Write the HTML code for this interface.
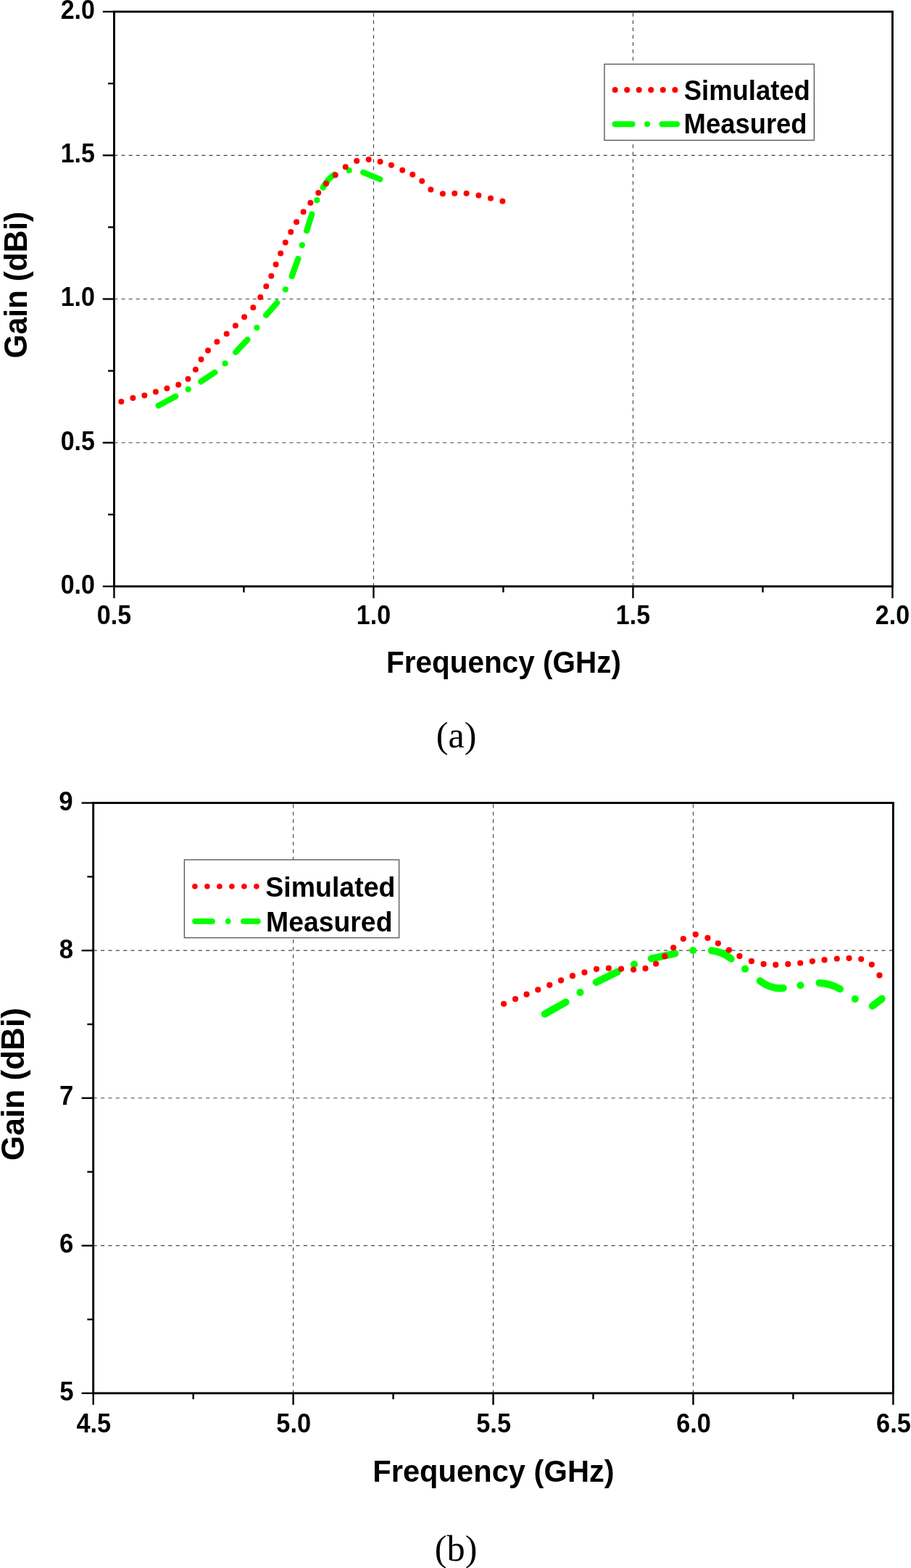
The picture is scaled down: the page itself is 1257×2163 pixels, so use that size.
<!DOCTYPE html>
<html lang="en"><head><meta charset="utf-8"><title>Gain vs Frequency</title>
<style>
html,body{margin:0;padding:0;background:#fff;}
body{width:1257px;height:2163px;overflow:hidden;}
svg{display:block;}
.t{font-family:"Liberation Sans", Arial, Helvetica, sans-serif;font-weight:700;fill:#000;}
.c{font-family:"Liberation Serif", "Times New Roman", Times, serif;font-weight:400;fill:#000;}
.a{stroke:#000;stroke-width:2.9;}
.k{stroke:#000;stroke-width:2.4;}
.g{stroke:#444;stroke-width:1.15;}.gv{stroke-dashoffset:-1.8;}
.gr{stroke:#00ff00;stroke-linecap:round;fill:none;}
.rd circle{fill:#ff0000;}
.lb{fill:#fff;stroke:#5a5a5a;stroke-width:1.4;}
</style></head><body>
<svg width="1257" height="2163" viewBox="0 0 1257 2163">
<rect width="1257" height="2163" fill="#fff"/>
<g id="chart-a">
<g class="g" stroke-dasharray="5 5.08">
<line class="gh" x1="157.45" y1="214.3" x2="1231.45" y2="214.3"/>
<line class="gh" x1="157.45" y1="412.5" x2="1231.45" y2="412.5"/>
<line class="gh" x1="157.45" y1="610.7" x2="1231.45" y2="610.7"/>
<line class="gv" x1="515.45" y1="16.1" x2="515.45" y2="808.9"/>
<line class="gv" x1="873.45" y1="16.1" x2="873.45" y2="808.9"/>
</g>
<line class="k" x1="141.75" y1="16.1" x2="157.45" y2="16.1"/>
<line class="k" x1="141.75" y1="214.3" x2="157.45" y2="214.3"/>
<line class="k" x1="141.75" y1="412.5" x2="157.45" y2="412.5"/>
<line class="k" x1="141.75" y1="610.7" x2="157.45" y2="610.7"/>
<line class="k" x1="141.75" y1="808.9" x2="157.45" y2="808.9"/>
<line class="k" x1="149.15" y1="115.2" x2="157.45" y2="115.2"/>
<line class="k" x1="149.15" y1="313.4" x2="157.45" y2="313.4"/>
<line class="k" x1="149.15" y1="511.6" x2="157.45" y2="511.6"/>
<line class="k" x1="149.15" y1="709.8" x2="157.45" y2="709.8"/>
<line class="k" x1="157.45" y1="808.9" x2="157.45" y2="825.2"/>
<line class="k" x1="515.45" y1="808.9" x2="515.45" y2="825.2"/>
<line class="k" x1="873.45" y1="808.9" x2="873.45" y2="825.2"/>
<line class="k" x1="1231.45" y1="808.9" x2="1231.45" y2="825.2"/>
<line class="k" x1="336.45" y1="808.9" x2="336.45" y2="817.2"/>
<line class="k" x1="694.45" y1="808.9" x2="694.45" y2="817.2"/>
<line class="k" x1="1052.45" y1="808.9" x2="1052.45" y2="817.2"/>
<rect class="a" x="157.45" y="16.1" width="1074" height="792.8" fill="none"/>
<g class="gr" stroke-width="8.2">
<path d="M218.7 559.5L242.2 546.8"/>
<path d="M259.7 537.1h0.01"/>
<path d="M277.3 526.4L296.4 513.7"/>
<path d="M310.6 501.4h0.01"/>
<path d="M325.2 485.7L341.4 468.6"/>
<path d="M354.4 452h0.01"/>
<path d="M367.2 434.7L382.2 417.7"/>
<path d="M393.9 399.3h0.01"/>
<path d="M402.7 381L411.3 357.1"/>
<path d="M416.8 338.2h0.01"/>
<path d="M423.2 318.3L430.3 295.5"/>
<path d="M437.3 276.2h0.01"/>
<path d="M445.7 258.7Q453.25 245.65 461.4 240.8"/>
<path d="M481.7 235h0.01"/>
<path d="M501.2 237.8L524.4 247.3"/>
</g>
<g class="rd">
<circle cx="167.3" cy="554.1" r="4"/>
<circle cx="183.4" cy="549" r="4"/>
<circle cx="199.4" cy="545.5" r="4"/>
<circle cx="214.9" cy="540.6" r="4"/>
<circle cx="230.4" cy="535.8" r="4"/>
<circle cx="246.2" cy="530.7" r="4"/>
<circle cx="259.5" cy="522.8" r="4"/>
<circle cx="269.9" cy="509.8" r="4"/>
<circle cx="277.5" cy="495.8" r="4"/>
<circle cx="287" cy="483.4" r="4"/>
<circle cx="299.4" cy="471.4" r="4"/>
<circle cx="312.7" cy="460.4" r="4"/>
<circle cx="324.9" cy="449.2" r="4"/>
<circle cx="337.1" cy="437.3" r="4"/>
<circle cx="349.3" cy="424.3" r="4"/>
<circle cx="359.3" cy="410" r="4"/>
<circle cx="367.3" cy="395.1" r="4"/>
<circle cx="374.3" cy="380.8" r="4"/>
<circle cx="380.6" cy="364.7" r="4"/>
<circle cx="387.2" cy="349.6" r="4"/>
<circle cx="393.8" cy="334.6" r="4"/>
<circle cx="401.3" cy="319.9" r="4"/>
<circle cx="409.1" cy="306.2" r="4"/>
<circle cx="418.6" cy="292.3" r="4"/>
<circle cx="428.4" cy="279.8" r="4"/>
<circle cx="439.3" cy="266" r="4"/>
<circle cx="450" cy="253.3" r="4"/>
<circle cx="462.8" cy="241.6" r="4"/>
<circle cx="476.7" cy="230.2" r="4"/>
<circle cx="492.2" cy="221.9" r="4"/>
<circle cx="508.7" cy="220.1" r="4"/>
<circle cx="524.6" cy="222.9" r="4"/>
<circle cx="539.9" cy="227.8" r="4"/>
<circle cx="555.2" cy="234.8" r="4"/>
<circle cx="569.3" cy="240.7" r="4"/>
<circle cx="582.2" cy="249.8" r="4"/>
<circle cx="594.4" cy="261.4" r="4"/>
<circle cx="610.9" cy="267.3" r="4"/>
<circle cx="627.3" cy="266.8" r="4"/>
<circle cx="643.6" cy="266.8" r="4"/>
<circle cx="660.4" cy="269.6" r="4"/>
<circle cx="677" cy="273.6" r="4"/>
<circle cx="693.4" cy="277.4" r="4"/>
</g>
<rect class="lb" x="834" y="88.5" width="289.4" height="105"/>
<g class="rd">
<circle cx="848.7" cy="124.1" r="4"/>
<circle cx="865.2" cy="124.1" r="4"/>
<circle cx="881.7" cy="124.1" r="4"/>
<circle cx="898.2" cy="124.1" r="4"/>
<circle cx="914.8" cy="124.1" r="4"/>
<circle cx="931.4" cy="124.1" r="4"/>
</g>
<g class="gr" stroke-width="8">
<path d="M848.6 171.2H872.5"/>
<path d="M893 171.2h0.01"/>
<path d="M913.5 171.2H934"/>
</g>
<text class="t" x="943.7" y="137.8" font-size="38.5" text-anchor="start" textLength="174.2" lengthAdjust="spacingAndGlyphs">Simulated</text>
<text class="t" x="943.6" y="184.15" font-size="38.5" text-anchor="start" textLength="170" lengthAdjust="spacingAndGlyphs">Measured</text>
<text class="t" x="131" y="25.95" font-size="36.4" text-anchor="end" textLength="47.3" lengthAdjust="spacingAndGlyphs">2.0</text>
<text class="t" x="131" y="224.15" font-size="36.4" text-anchor="end" textLength="47.3" lengthAdjust="spacingAndGlyphs">1.5</text>
<text class="t" x="131" y="422.35" font-size="36.4" text-anchor="end" textLength="47.3" lengthAdjust="spacingAndGlyphs">1.0</text>
<text class="t" x="131" y="620.55" font-size="36.4" text-anchor="end" textLength="47.3" lengthAdjust="spacingAndGlyphs">0.5</text>
<text class="t" x="131" y="818.75" font-size="36.4" text-anchor="end" textLength="47.3" lengthAdjust="spacingAndGlyphs">0.0</text>
<text class="t" x="157.45" y="860.7" font-size="36.4" text-anchor="middle" textLength="47.2" lengthAdjust="spacingAndGlyphs">0.5</text>
<text class="t" x="515.45" y="860.7" font-size="36.4" text-anchor="middle" textLength="47.2" lengthAdjust="spacingAndGlyphs">1.0</text>
<text class="t" x="873.45" y="860.7" font-size="36.4" text-anchor="middle" textLength="47.2" lengthAdjust="spacingAndGlyphs">1.5</text>
<text class="t" x="1231.45" y="860.7" font-size="36.4" text-anchor="middle" textLength="47.2" lengthAdjust="spacingAndGlyphs">2.0</text>
<text class="t" x="694.9" y="927.9" font-size="42.1" text-anchor="middle" textLength="324" lengthAdjust="spacingAndGlyphs">Frequency (GHz)</text>
<text class="t" x="0" y="0" font-size="43.6" text-anchor="middle" textLength="202.3" lengthAdjust="spacingAndGlyphs" transform="translate(36.8 393) rotate(-90)">Gain (dBi)</text>
<text class="c" x="629.6" y="1030.6" font-size="50.3" text-anchor="middle">(a)</text>
</g>
<g id="chart-b">
<g class="g" stroke-dasharray="5.1 5.26">
<line class="gh" x1="128.7" y1="1311.17" x2="1232.4" y2="1311.17"/>
<line class="gh" x1="128.7" y1="1514.75" x2="1232.4" y2="1514.75"/>
<line class="gh" x1="128.7" y1="1718.33" x2="1232.4" y2="1718.33"/>
<line class="gv" x1="404.62" y1="1107.6" x2="404.62" y2="1921.9"/>
<line class="gv" x1="680.55" y1="1107.6" x2="680.55" y2="1921.9"/>
<line class="gv" x1="956.48" y1="1107.6" x2="956.48" y2="1921.9"/>
</g>
<line class="k" x1="112.6" y1="1107.6" x2="128.7" y2="1107.6"/>
<line class="k" x1="112.6" y1="1311.17" x2="128.7" y2="1311.17"/>
<line class="k" x1="112.6" y1="1514.75" x2="128.7" y2="1514.75"/>
<line class="k" x1="112.6" y1="1718.33" x2="128.7" y2="1718.33"/>
<line class="k" x1="112.6" y1="1921.9" x2="128.7" y2="1921.9"/>
<line class="k" x1="120.4" y1="1209.39" x2="128.7" y2="1209.39"/>
<line class="k" x1="120.4" y1="1412.96" x2="128.7" y2="1412.96"/>
<line class="k" x1="120.4" y1="1616.54" x2="128.7" y2="1616.54"/>
<line class="k" x1="120.4" y1="1820.11" x2="128.7" y2="1820.11"/>
<line class="k" x1="128.7" y1="1921.9" x2="128.7" y2="1937.9"/>
<line class="k" x1="404.62" y1="1921.9" x2="404.62" y2="1937.9"/>
<line class="k" x1="680.55" y1="1921.9" x2="680.55" y2="1937.9"/>
<line class="k" x1="956.48" y1="1921.9" x2="956.48" y2="1937.9"/>
<line class="k" x1="1232.4" y1="1921.9" x2="1232.4" y2="1937.9"/>
<line class="k" x1="266.66" y1="1921.9" x2="266.66" y2="1930.2"/>
<line class="k" x1="542.59" y1="1921.9" x2="542.59" y2="1930.2"/>
<line class="k" x1="818.51" y1="1921.9" x2="818.51" y2="1930.2"/>
<line class="k" x1="1094.44" y1="1921.9" x2="1094.44" y2="1930.2"/>
<rect class="a" x="128.7" y="1107.6" width="1103.7" height="814.3" fill="none"/>
<g class="gr" stroke-width="10">
<path d="M751.7 1398.8L780.6 1382.5"/>
<path d="M800.5 1369.1h0.01"/>
<path d="M822.7 1354.9L852.1 1340.5"/>
<path d="M875 1330.2h0.01"/>
<path d="M898.7 1322.4L931.5 1315.3"/>
<path d="M956.2 1311.3h0.01"/>
<path d="M981.8 1311.3Q996.95 1312.9 1008.7 1322.5"/>
<path d="M1028.1 1336.6h0.01"/>
<path d="M1048.6 1353.1Q1063.5 1364.7 1080.8 1363.1"/>
<path d="M1104.4 1359.3h0.01"/>
<path d="M1130.5 1355.9Q1145.8 1356.5 1159.1 1364.3"/>
<path d="M1179.9 1378.1h0.01"/>
<path d="M1203.7 1387.7L1216.8 1377.7"/>
</g>
<g class="rd">
<circle cx="695.1" cy="1384.8" r="4.1"/>
<circle cx="711.1" cy="1378.1" r="4.1"/>
<circle cx="726.6" cy="1371.7" r="4.1"/>
<circle cx="742.3" cy="1365.3" r="4.1"/>
<circle cx="758.3" cy="1358.8" r="4.1"/>
<circle cx="774.1" cy="1352.4" r="4.1"/>
<circle cx="790" cy="1346.2" r="4.1"/>
<circle cx="806.5" cy="1341.4" r="4.1"/>
<circle cx="823" cy="1336.8" r="4.1"/>
<circle cx="839.9" cy="1335.7" r="4.1"/>
<circle cx="857.1" cy="1336.6" r="4.1"/>
<circle cx="874.1" cy="1337.6" r="4.1"/>
<circle cx="890.5" cy="1335.9" r="4.1"/>
<circle cx="905.1" cy="1329.5" r="4.1"/>
<circle cx="917.3" cy="1319.2" r="4.1"/>
<circle cx="929.2" cy="1307.3" r="4.1"/>
<circle cx="942.8" cy="1295.1" r="4.1"/>
<circle cx="959.8" cy="1289.1" r="4.1"/>
<circle cx="976.5" cy="1293.9" r="4.1"/>
<circle cx="990.8" cy="1301.3" r="4.1"/>
<circle cx="1005.9" cy="1310.6" r="4.1"/>
<circle cx="1020.4" cy="1318.9" r="4.1"/>
<circle cx="1036.9" cy="1325.9" r="4.1"/>
<circle cx="1053.6" cy="1329.9" r="4.1"/>
<circle cx="1070.3" cy="1330.9" r="4.1"/>
<circle cx="1087.3" cy="1329.9" r="4.1"/>
<circle cx="1104.2" cy="1328.5" r="4.1"/>
<circle cx="1120.9" cy="1326.1" r="4.1"/>
<circle cx="1137.6" cy="1324.2" r="4.1"/>
<circle cx="1154.8" cy="1322.5" r="4.1"/>
<circle cx="1171.5" cy="1321.8" r="4.1"/>
<circle cx="1188.2" cy="1323" r="4.1"/>
<circle cx="1202.8" cy="1330.6" r="4.1"/>
<circle cx="1213.5" cy="1345.4" r="4.1"/>
</g>
<rect class="lb" x="254.4" y="1186" width="296.2" height="107.6"/>
<g class="rd">
<circle cx="268.9" cy="1222.8" r="3.8"/>
<circle cx="285.9" cy="1222.8" r="3.8"/>
<circle cx="302.9" cy="1222.8" r="3.8"/>
<circle cx="319.9" cy="1222.8" r="3.8"/>
<circle cx="336.9" cy="1222.8" r="3.8"/>
<circle cx="353.9" cy="1222.8" r="3.8"/>
</g>
<g class="gr" stroke-width="7.6">
<path d="M269 1270.9H293"/>
<path d="M314.7 1270.9h0.01"/>
<path d="M336 1270.9H356"/>
</g>
<text class="t" x="366.2" y="1236.6" font-size="38.5" text-anchor="start" textLength="179.3" lengthAdjust="spacingAndGlyphs">Simulated</text>
<text class="t" x="367" y="1285.4" font-size="38.5" text-anchor="start" textLength="174.5" lengthAdjust="spacingAndGlyphs">Measured</text>
<text class="t" x="100.7" y="1117.8" font-size="36.4" text-anchor="end" textLength="19.4" lengthAdjust="spacingAndGlyphs">9</text>
<text class="t" x="101.2" y="1322.3" font-size="36.4" text-anchor="end" textLength="19.4" lengthAdjust="spacingAndGlyphs">8</text>
<text class="t" x="101.35" y="1524.3" font-size="36.4" text-anchor="end" textLength="19.4" lengthAdjust="spacingAndGlyphs">7</text>
<text class="t" x="101.35" y="1727.8" font-size="36.4" text-anchor="end" textLength="19.4" lengthAdjust="spacingAndGlyphs">6</text>
<text class="t" x="101.6" y="1932" font-size="36.4" text-anchor="end" textLength="19.4" lengthAdjust="spacingAndGlyphs">5</text>
<text class="t" x="129.3" y="1975.8" font-size="36.4" text-anchor="middle" textLength="47.8" lengthAdjust="spacingAndGlyphs">4.5</text>
<text class="t" x="405.23" y="1975.8" font-size="36.4" text-anchor="middle" textLength="47.8" lengthAdjust="spacingAndGlyphs">5.0</text>
<text class="t" x="681.15" y="1975.8" font-size="36.4" text-anchor="middle" textLength="47.8" lengthAdjust="spacingAndGlyphs">5.5</text>
<text class="t" x="957.08" y="1975.8" font-size="36.4" text-anchor="middle" textLength="47.8" lengthAdjust="spacingAndGlyphs">6.0</text>
<text class="t" x="1233" y="1975.8" font-size="36.4" text-anchor="middle" textLength="47.8" lengthAdjust="spacingAndGlyphs">6.5</text>
<text class="t" x="681" y="2044.3" font-size="43.2" text-anchor="middle" textLength="333.5" lengthAdjust="spacingAndGlyphs">Frequency (GHz)</text>
<text class="t" x="0" y="0" font-size="44.6" text-anchor="middle" textLength="210.8" lengthAdjust="spacingAndGlyphs" transform="translate(33.45 1495.5) rotate(-90)">Gain (dBi)</text>
<text class="c" x="629.2" y="2152.7" font-size="50.3" text-anchor="middle">(b)</text>
</g>
</svg></body></html>
